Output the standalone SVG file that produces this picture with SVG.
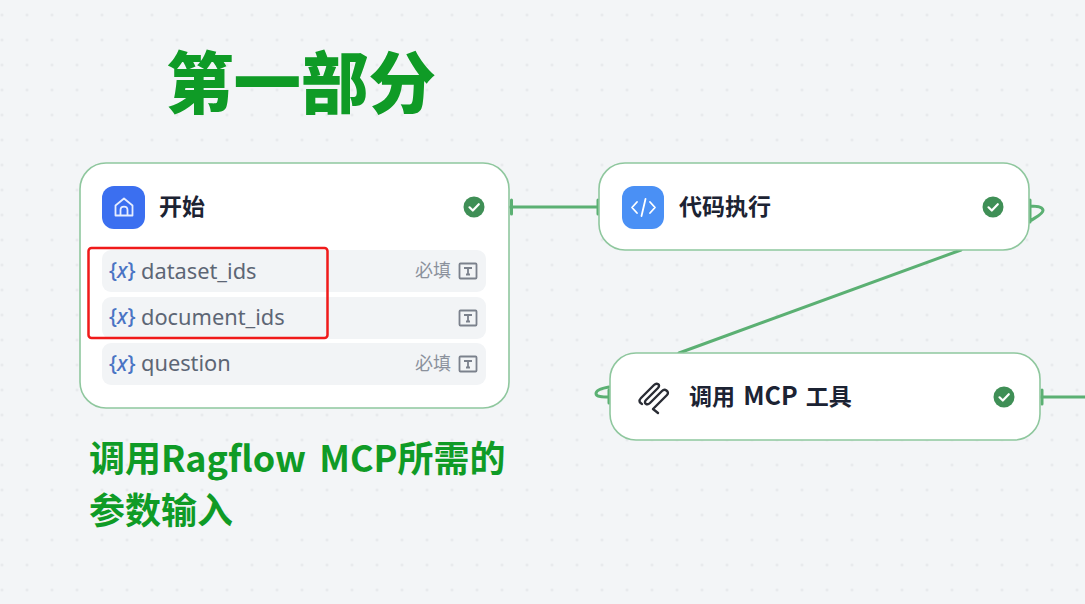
<svg xmlns="http://www.w3.org/2000/svg" width="1085" height="604" viewBox="0 0 1085 604">
<style>
text{font-family:"Noto Sans CJK SC","Noto Sans",sans-serif}
.node{fill:#fff;stroke:#8fc79e;stroke-width:1.6}
.title{font-size:23px;font-weight:700;fill:#1c2333}
.row{fill:#f2f4f6}
.var{font-family:"Noto Sans",sans-serif;font-size:21.800px;fill:#5d6675}
.x{font-family:"Noto Sans",sans-serif;font-size:21px;font-weight:500;fill:#4a74c4}
.x tspan{font-style:italic}
.req{font-size:18px;fill:#8b919c}
.ty{fill:none;stroke:#7b818c;stroke-width:1.800}
.wire{fill:none;stroke:#5bb073;stroke-width:3;stroke-linecap:round;stroke-linejoin:round}
.check{fill:#3f8f56}
.tick{fill:none;stroke:#fff;stroke-width:2.200;stroke-linecap:round;stroke-linejoin:round}
.note{font-size:36px;font-weight:700;fill:#0f9b26}
</style>
<defs>
<pattern id="dots" width="25" height="25" patternUnits="userSpaceOnUse" x="-10.500" y="2.500"><circle cx="12.500" cy="12.500" r="1.200" fill="#e3e5e8"/></pattern>
<g id="status"><circle r="10.500" class="check"/><path class="tick" d="M-4.500 0.300L-1.200 3.500L4.800-2.800"/></g>
<g id="typeicon"><rect x="-8.500" y="-7.500" width="17" height="15" rx="1" class="ty"/><path class="ty" d="M-4-3H4M0-3V3.500M-2 3.500H2"/></g>
</defs>
<rect width="1085" height="604" fill="#f3f5f7"/>
<rect width="1085" height="604" fill="url(#dots)"/>
<g id="connectors">
<path class="wire" d="M510 207H599M511.500 200V214M598 200V214"/>
<path class="wire" d="M1030 200V222M1030 206C1037 206 1043 207 1043 210.500C1043 214 1036 217 1030 221"/>
<path class="wire" d="M961 250L679 353"/>
<path class="wire" d="M609 387C603 388 596 390 596 393.500C596 397 603 397 609 397M609 390V403"/>
<path class="wire" d="M1040 397H1085M1042 390V404"/>
</g>
<g id="heading"><text x="166" y="108" style="font-size:67.500px;font-weight:900" fill="#0f9b26">第一部分</text></g>
<g id="node-start">
<rect class="node" x="80" y="163" width="429" height="245" rx="26"/>
<rect x="102" y="186" width="43" height="43" rx="12" fill="#3b6ff0"/>
<path d="M115.500 205.500L124 198.500L132.500 205.500V215.500H115.500ZM120.500 215.500V210C120.500 205.500 127.500 205.500 127.500 210V215.500" fill="none" stroke="#e6edff" stroke-width="1.800" stroke-linejoin="round"/>
<text class="title" x="159" y="215">开始</text>
<use href="#status" x="474" y="207"/>
<rect class="row" x="102" y="250" width="384" height="42" rx="9"/>
<rect class="row" x="102" y="297" width="384" height="42" rx="9"/>
<rect class="row" x="102" y="343" width="384" height="42" rx="9"/>
<text class="x" x="109" y="278">{<tspan>x</tspan>}</text><text class="var" x="141" y="279">dataset_ids</text>
<text class="req" x="415" y="277">必填</text><use href="#typeicon" x="468" y="271"/>
<text class="x" x="109" y="324">{<tspan>x</tspan>}</text><text class="var" x="141" y="325">document_ids</text>
<use href="#typeicon" x="468" y="318"/>
<text class="x" x="109" y="371">{<tspan>x</tspan>}</text><text class="var" x="141" y="371">question</text>
<text class="req" x="415" y="370">必填</text><use href="#typeicon" x="468" y="364"/>
</g>
<rect id="highlight" x="88.500" y="248" width="239" height="90" rx="3" fill="none" stroke="#f01a1a" stroke-width="2.500"/>
<g id="node-code">
<rect class="node" x="599" y="163" width="430" height="87" rx="26"/>
<rect x="622" y="186" width="42" height="43" rx="12" fill="#4a90f5"/>
<path d="M637 202L632 207.500L637 213M650 202L655 207.500L650 213M645.500 199L641.500 216" fill="none" stroke="#fff" stroke-width="1.800" stroke-linecap="round" stroke-linejoin="round"/>
<text class="title" x="679" y="215">代码执行</text>
<use href="#status" x="993" y="207"/>
</g>
<g id="node-mcp">
<rect class="node" x="610" y="353" width="430" height="87" rx="26"/>
<path d="M658 413L653 409L667 395C670 392 665 388 662 391L650 403C647 406 643 403 646 400L658 388C661 385 657 382 654 385L641 398C638 401 640 403 642 404" fill="none" stroke="#2a2d35" stroke-width="2.400" stroke-linecap="round" stroke-linejoin="round"/>
<text class="title" x="689" y="405" word-spacing="3">调用 <tspan font-size="25">MCP</tspan> 工具</text>
<use href="#status" x="1004" y="397"/>
</g>
<g id="caption">
<text class="note" x="89" y="472" word-spacing="5">调用Ragflow MCP所需的</text>
<text class="note" x="89" y="524">参数输入</text>
</g>
</svg>
